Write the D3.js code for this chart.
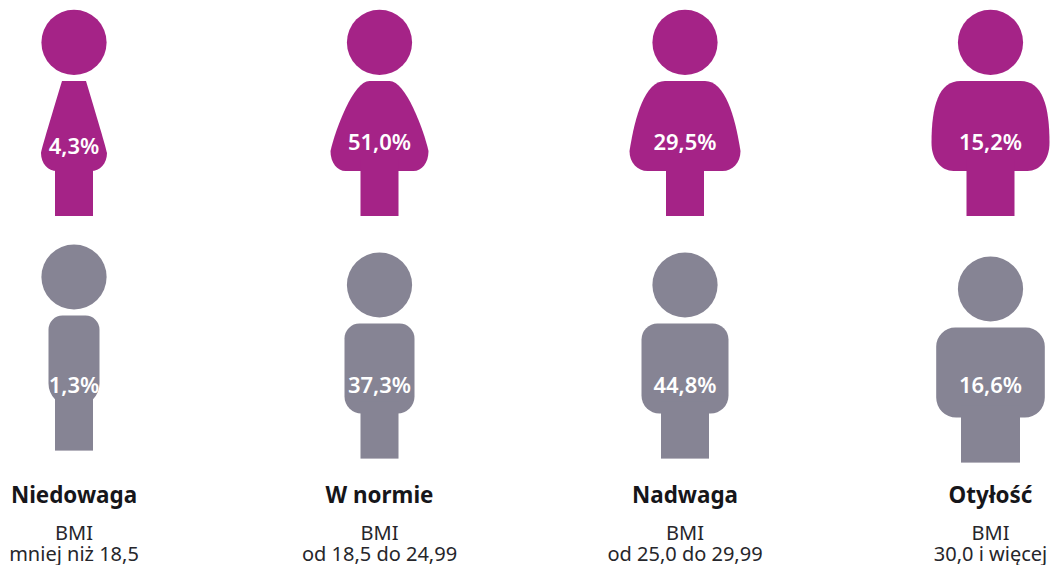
<!DOCTYPE html>
<html lang="pl">
<head>
<meta charset="utf-8">
<script src="https://cdn.jsdelivr.net/npm/d3@7"></script>
<style>
  html, body { margin: 0; padding: 0; background: #fff; }
  text { font-family: "Noto Sans", sans-serif; text-anchor: middle; }
</style>
</head>
<body>
<svg id="chart" width="1054" height="565"></svg>
<script>
// data
const categories = ['Niedowaga', 'W normie', 'Nadwaga', 'Otyłość'];
const bmiRanges = ['mniej niż 18,5', 'od 18,5 do 24,99', 'od 25,0 do 29,99', '30,0 i więcej'];
const womenValues = [4.3, 51.0, 29.5, 15.2];
const menValues = [1.3, 37.3, 44.8, 16.6];

// icon shapes, one per category
const womenBodies = [
  { top: 12, max: 33, widestAt: 72, c1: [18, 20], c2: [32, 66], corner: 16, leg: 19, labelY: 154 },
  { top: 10, max: 49, widestAt: 70, c1: [26, 0], c2: [44, 48], corner: 15, leg: 19, labelY: 150.5 },
  { top: 20, max: 55.5, widestAt: 70, c1: [40, 0], c2: [50, 35], corner: 18, leg: 19, labelY: 150.5 },
  { top: 30, max: 59, widestAt: 62, c1: [52, 0], c2: [59, 25], corner: 22, leg: 24, labelY: 150.5 }
];
const menBodies = [
  { half: 25.5, rTop: 14, rBottom: 22, leg: 19, headY: 277 },
  { half: 35, rTop: 15, rBottom: 17, leg: 19, headY: 285 },
  { half: 43.5, rTop: 16, rBottom: 18, leg: 24, headY: 285 },
  { half: 54.3, rTop: 19, rBottom: 20, leg: 29.5, headY: 289 }
];

const PURPLE = '#a52387';
const GREY = '#868494';
const HEAD_R = 32.6;
const NECK = 38.6;       // head centre to top of body
const BODY_H = 90;
const LEG_H = 45;
const LEG_OVERLAP = 12;  // legs start inside the body so rounded corners leave no gap
const WOMEN_HEAD_Y = 42.4;
const MEN_LABEL_Y = 393;

const fmt = v => d3.format('.1f')(v).replace('.', ',') + '%';

const x = d3.scalePoint().domain(categories).range([74, 990.5]);

function womanBody(s) {
  const p = d3.path();
  p.moveTo(-s.top, 0);
  p.lineTo(s.top, 0);
  p.bezierCurveTo(s.c1[0], s.c1[1], s.c2[0], s.c2[1], s.max, s.widestAt);
  p.bezierCurveTo(s.max, s.widestAt + (BODY_H - s.widestAt) * 0.6, s.max - s.corner * 0.45, BODY_H, s.max - s.corner, BODY_H);
  p.lineTo(s.corner - s.max, BODY_H);
  p.bezierCurveTo(s.corner * 0.45 - s.max, BODY_H, -s.max, s.widestAt + (BODY_H - s.widestAt) * 0.6, -s.max, s.widestAt);
  p.bezierCurveTo(-s.c2[0], s.c2[1], -s.c1[0], s.c1[1], -s.top, 0);
  p.closePath();
  return p.toString();
}

function manBody(s) {
  const p = d3.path();
  p.moveTo(-s.half + s.rTop, 0);
  p.arcTo(s.half, 0, s.half, s.rTop, s.rTop);
  p.arcTo(s.half, BODY_H, s.half - s.rBottom, BODY_H, s.rBottom);
  p.arcTo(-s.half, BODY_H, -s.half, BODY_H - s.rBottom, s.rBottom);
  p.arcTo(-s.half, 0, -s.half + s.rTop, 0, s.rTop);
  p.closePath();
  return p.toString();
}

const svg = d3.select('#chart');

function drawRow(rowClass, values, bodies, color, headY, bodyPath, labelY) {
  const rows = values.map((value, i) => ({ value, shape: bodies[i], cat: categories[i] }));
  const fig = svg.selectAll('.' + rowClass)
    .data(rows)
    .join('g')
      .attr('class', rowClass)
      .attr('transform', d => `translate(${x(d.cat)},${headY(d)})`)
      .attr('fill', color);

  fig.append('circle').attr('r', HEAD_R);
  fig.append('path')
    .attr('transform', `translate(0,${NECK})`)
    .attr('d', d => bodyPath(d.shape));
  fig.append('rect')
    .attr('x', d => -d.shape.leg)
    .attr('y', NECK + BODY_H - LEG_OVERLAP)
    .attr('width', d => d.shape.leg * 2)
    .attr('height', LEG_H + LEG_OVERLAP);
  fig.append('text')
    .attr('y', d => labelY(d) - headY(d))
    .attr('fill', '#fff')
    .attr('font-size', 22)
    .attr('font-weight', 600)
    .text(d => fmt(d.value));
}

drawRow('woman', womenValues, womenBodies, PURPLE, () => WOMEN_HEAD_Y, womanBody, d => d.shape.labelY);
drawRow('man', menValues, menBodies, GREY, d => d.shape.headY, manBody, () => MEN_LABEL_Y);

// category captions
const caption = svg.selectAll('.caption')
  .data(categories.map((cat, i) => ({ cat, range: bmiRanges[i] })))
  .join('g')
    .attr('class', 'caption')
    .attr('transform', d => `translate(${x(d.cat)},0)`);

caption.append('text')
  .attr('y', 503)
  .attr('fill', '#16161a')
  .attr('font-size', 22.4)
  .attr('font-weight', 700)
  .text(d => d.cat);
caption.append('text')
  .attr('y', 540)
  .attr('fill', '#26262b')
  .attr('font-size', 20)
  .text('BMI');
caption.append('text')
  .attr('y', 561)
  .attr('fill', '#26262b')
  .attr('font-size', 20)
  .text(d => d.range);
</script>
</body>
</html>
